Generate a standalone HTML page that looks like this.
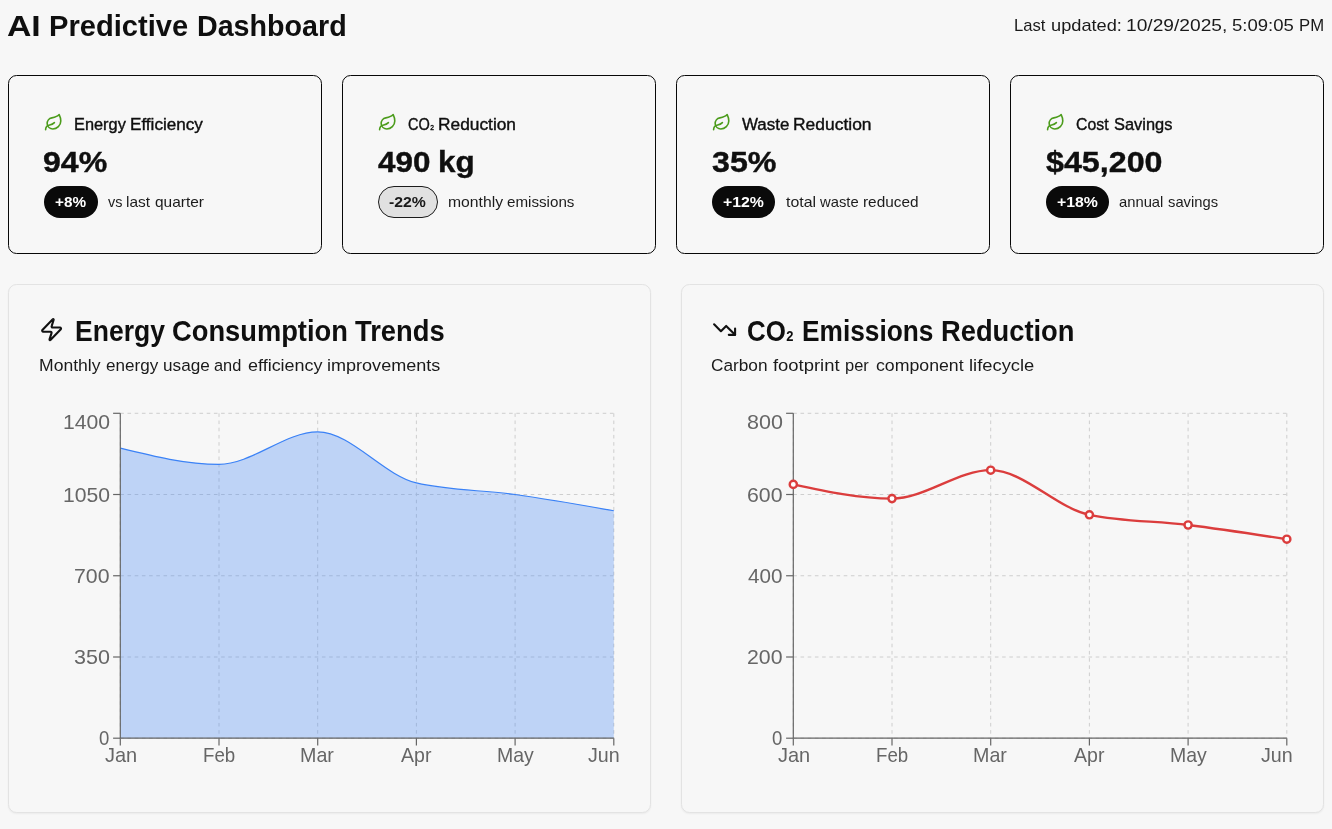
<!DOCTYPE html>
<html lang="en"><head><meta charset="utf-8"><title>AI Predictive Dashboard</title>
<style>
*{margin:0;padding:0;box-sizing:border-box}
html,body{width:1332px;height:829px;overflow:hidden;background:#f7f7f7;font-family:"Liberation Sans", sans-serif;}
.t{position:absolute;white-space:nowrap;line-height:1;transform-origin:0 0;}
.sub{font-size:46%;margin:0 .5px}
.sub2{font-size:50%;margin:0 .5px}
.card{position:absolute;top:75px;width:314px;height:179px;border:1px solid #080808;border-radius:8.6px;background:#f7f7f7}
.cc{position:absolute;top:284px;width:643px;height:528.5px;border:1px solid #e3e3e3;border-radius:8.6px;background:#f7f7f7;box-shadow:0 1px 2px rgba(0,0,0,.05)}
.badge{position:absolute;top:186px;height:31.6px;border-radius:16px}
.badge.dark{background:#0a0a0a}
.badge.light{background:#e1e1e1;border:1.2px solid #1c1c1c}
svg{position:absolute;overflow:visible}
</style></head><body>
<div class="card" style="left:8px"></div>
<div class="badge dark" style="left:44px;width:54.0px"></div>
<svg style="left:44.1px;top:113.1px" width="19.2" height="19.2" viewBox="0 0 24 24" fill="none" stroke="#4c9c1c" stroke-width="2" stroke-linecap="round" stroke-linejoin="round"><path d="M11 20A7 7 0 0 1 9.8 6.1C15.5 5 17 4.480 19 2c1 2 2 4.180 2 8 0 5.500-4.780 10-10 10Z"/><path d="M2 21c0-3 1.850-5.360 5.080-6C9.500 14.520 12 13 13 12"/></svg>
<div class="card" style="left:342px"></div>
<div class="badge light" style="left:378px;width:60.0px"></div>
<svg style="left:378.1px;top:113.1px" width="19.2" height="19.2" viewBox="0 0 24 24" fill="none" stroke="#4c9c1c" stroke-width="2" stroke-linecap="round" stroke-linejoin="round"><path d="M11 20A7 7 0 0 1 9.8 6.1C15.5 5 17 4.480 19 2c1 2 2 4.180 2 8 0 5.500-4.780 10-10 10Z"/><path d="M2 21c0-3 1.850-5.360 5.080-6C9.500 14.520 12 13 13 12"/></svg>
<div class="card" style="left:676px"></div>
<div class="badge dark" style="left:712px;width:63.1px"></div>
<svg style="left:712.1px;top:113.1px" width="19.2" height="19.2" viewBox="0 0 24 24" fill="none" stroke="#4c9c1c" stroke-width="2" stroke-linecap="round" stroke-linejoin="round"><path d="M11 20A7 7 0 0 1 9.8 6.1C15.5 5 17 4.480 19 2c1 2 2 4.180 2 8 0 5.500-4.780 10-10 10Z"/><path d="M2 21c0-3 1.850-5.360 5.080-6C9.500 14.520 12 13 13 12"/></svg>
<div class="card" style="left:1010px"></div>
<div class="badge dark" style="left:1046px;width:63.1px"></div>
<svg style="left:1046.1px;top:113.1px" width="19.2" height="19.2" viewBox="0 0 24 24" fill="none" stroke="#4c9c1c" stroke-width="2" stroke-linecap="round" stroke-linejoin="round"><path d="M11 20A7 7 0 0 1 9.8 6.1C15.5 5 17 4.480 19 2c1 2 2 4.180 2 8 0 5.500-4.780 10-10 10Z"/><path d="M2 21c0-3 1.850-5.360 5.080-6C9.500 14.520 12 13 13 12"/></svg>
<div class="cc" style="left:8px"></div><div class="cc" style="left:681px"></div>
<svg style="left:38.8px;top:316.8px" width="25.2" height="25.2" viewBox="0 0 24 24" fill="none" stroke="#111" stroke-width="2" stroke-linecap="round" stroke-linejoin="round"><path d="M4 14a1 1 0 0 1-.78-1.630l9.900-10.200a.5.5 0 0 1 .86.460l-1.920 6.020A1 1 0 0 0 13 10h7a1 1 0 0 1 .78 1.630l-9.900 10.200a.5.5 0 0 1-.86-.460l1.920-6.020A1 1 0 0 0 11 14z"/></svg>
<svg style="left:711.8px;top:316.6px" width="25.2" height="25.2" viewBox="0 0 24 24" fill="none" stroke="#111" stroke-width="2" stroke-linecap="round" stroke-linejoin="round"><polyline points="22 17 13.5 8.5 8.5 13.5 2 7"/><polyline points="16 17 22 17 22 11"/></svg>
<svg style="left:0;top:0" width="1332" height="829" viewBox="0 0 1332 829"><g stroke="#cecece" stroke-width="1" stroke-dasharray="3.6 3.6" fill="none"><line x1="120.3" y1="413.3" x2="613.8" y2="413.3"/><line x1="120.3" y1="494.5" x2="613.8" y2="494.5"/><line x1="120.3" y1="575.75" x2="613.8" y2="575.75"/><line x1="120.3" y1="657" x2="613.8" y2="657"/><line x1="120.3" y1="738.2" x2="613.8" y2="738.2"/><line x1="120.3" y1="413.3" x2="120.3" y2="738.2"/><line x1="219.0" y1="413.3" x2="219.0" y2="738.2"/><line x1="317.7" y1="413.3" x2="317.7" y2="738.2"/><line x1="416.4" y1="413.3" x2="416.4" y2="738.2"/><line x1="515.1" y1="413.3" x2="515.1" y2="738.2"/><line x1="613.8" y1="413.3" x2="613.8" y2="738.2"/></g><path d="M120.30,448.11C153.20,456.23,186.10,464.36,219.00,464.36C251.90,464.36,284.80,431.87,317.70,431.87C350.60,431.87,383.50,475.19,416.40,482.92C449.30,490.66,482.20,489.88,515.10,494.53C548.00,499.17,580.90,504.97,613.80,510.77L613.8,738.2L120.3,738.2Z" fill="#3b82f6" fill-opacity="0.3" stroke="none"/><path d="M120.30,448.11C153.20,456.23,186.10,464.36,219.00,464.36C251.90,464.36,284.80,431.87,317.70,431.87C350.60,431.87,383.50,475.19,416.40,482.92C449.30,490.66,482.20,489.88,515.10,494.53C548.00,499.17,580.90,504.97,613.80,510.77" fill="none" stroke="#3b82f6" stroke-width="1.2"/><g stroke="#666" stroke-width="1.2" fill="none"><line x1="120.3" y1="413.3" x2="120.3" y2="738.2"/><line x1="120.3" y1="738.2" x2="613.8" y2="738.2"/><line x1="113.1" y1="413.3" x2="120.3" y2="413.3"/><line x1="113.1" y1="494.5" x2="120.3" y2="494.5"/><line x1="113.1" y1="575.75" x2="120.3" y2="575.75"/><line x1="113.1" y1="657" x2="120.3" y2="657"/><line x1="113.1" y1="738.2" x2="120.3" y2="738.2"/><line x1="120.3" y1="738.2" x2="120.3" y2="745.4000000000001"/><line x1="219.0" y1="738.2" x2="219.0" y2="745.4000000000001"/><line x1="317.7" y1="738.2" x2="317.7" y2="745.4000000000001"/><line x1="416.4" y1="738.2" x2="416.4" y2="745.4000000000001"/><line x1="515.1" y1="738.2" x2="515.1" y2="745.4000000000001"/><line x1="613.8" y1="738.2" x2="613.8" y2="745.4000000000001"/></g></svg>
<svg style="left:0;top:0" width="1332" height="829" viewBox="0 0 1332 829"><g stroke="#cecece" stroke-width="1" stroke-dasharray="3.6 3.6" fill="none"><line x1="793.3" y1="413.3" x2="1286.8" y2="413.3"/><line x1="793.3" y1="494.5" x2="1286.8" y2="494.5"/><line x1="793.3" y1="575.75" x2="1286.8" y2="575.75"/><line x1="793.3" y1="657" x2="1286.8" y2="657"/><line x1="793.3" y1="738.2" x2="1286.8" y2="738.2"/><line x1="793.3" y1="413.3" x2="793.3" y2="738.2"/><line x1="892.0" y1="413.3" x2="892.0" y2="738.2"/><line x1="990.7" y1="413.3" x2="990.7" y2="738.2"/><line x1="1089.4" y1="413.3" x2="1089.4" y2="738.2"/><line x1="1188.1" y1="413.3" x2="1188.1" y2="738.2"/><line x1="1286.8" y1="413.3" x2="1286.8" y2="738.2"/></g><g stroke="#666" stroke-width="1.2" fill="none"><line x1="793.3" y1="413.3" x2="793.3" y2="738.2"/><line x1="793.3" y1="738.2" x2="1286.8" y2="738.2"/><line x1="786.0999999999999" y1="413.3" x2="793.3" y2="413.3"/><line x1="786.0999999999999" y1="494.5" x2="793.3" y2="494.5"/><line x1="786.0999999999999" y1="575.75" x2="793.3" y2="575.75"/><line x1="786.0999999999999" y1="657" x2="793.3" y2="657"/><line x1="786.0999999999999" y1="738.2" x2="793.3" y2="738.2"/><line x1="793.3" y1="738.2" x2="793.3" y2="745.4000000000001"/><line x1="892.0" y1="738.2" x2="892.0" y2="745.4000000000001"/><line x1="990.7" y1="738.2" x2="990.7" y2="745.4000000000001"/><line x1="1089.4" y1="738.2" x2="1089.4" y2="745.4000000000001"/><line x1="1188.1" y1="738.2" x2="1188.1" y2="745.4000000000001"/><line x1="1286.8" y1="738.2" x2="1286.8" y2="745.4000000000001"/></g><path d="M793.30,484.37C826.20,491.48,859.10,498.59,892.00,498.59C924.90,498.59,957.80,470.16,990.70,470.16C1023.60,470.16,1056.50,508.06,1089.40,514.83C1122.30,521.60,1155.20,520.92,1188.10,524.98C1221.00,529.05,1253.90,534.12,1286.80,539.20" fill="none" stroke="#db3d3d" stroke-width="2.4"/><circle cx="793.3" cy="484.4" r="3.6" fill="#fff" stroke="#db3d3d" stroke-width="2.4"/><circle cx="892.0" cy="498.6" r="3.6" fill="#fff" stroke="#db3d3d" stroke-width="2.4"/><circle cx="990.7" cy="470.2" r="3.6" fill="#fff" stroke="#db3d3d" stroke-width="2.4"/><circle cx="1089.4" cy="514.8" r="3.6" fill="#fff" stroke="#db3d3d" stroke-width="2.4"/><circle cx="1188.1" cy="525.0" r="3.6" fill="#fff" stroke="#db3d3d" stroke-width="2.4"/><circle cx="1286.8" cy="539.2" r="3.6" fill="#fff" stroke="#db3d3d" stroke-width="2.4"/></svg>
<h1>
<span class="t" id="h1w0" style="left:7.10px;top:12.00px;font-size:29.2px;font-weight:700;color:#0f0f0f;transform:scaleX(1.1559);">AI</span>
<span class="t" id="h1w1" style="left:48.70px;top:12.00px;font-size:29.2px;font-weight:700;color:#0f0f0f;transform:scaleX(0.9974);">Predictive</span>
<span class="t" id="h1w2" style="left:196.72px;top:12.00px;font-size:29.2px;font-weight:700;color:#0f0f0f;transform:scaleX(0.9815);">Dashboard</span>
</h1>
<p>
<span class="t" id="updw0" style="left:1014.02px;top:17.00px;font-size:17.0px;font-weight:400;color:#1a1a1a;transform:scaleX(0.9784);">Last</span>
<span class="t" id="updw1" style="left:1050.53px;top:17.00px;font-size:17.0px;font-weight:400;color:#1a1a1a;transform:scaleX(1.0719);">updated:</span>
<span class="t" id="updw2" style="left:1125.77px;top:17.00px;font-size:17.0px;font-weight:400;color:#1a1a1a;transform:scaleX(1.1283);">10/29/2025,</span>
<span class="t" id="updw3" style="left:1232.20px;top:17.00px;font-size:17.0px;font-weight:400;color:#1a1a1a;transform:scaleX(1.0899);">5:09:05</span>
<span class="t" id="updw4" style="left:1299.12px;top:17.00px;font-size:17.0px;font-weight:400;color:#1a1a1a;transform:scaleX(0.9825);">PM</span>
</p>
<p>
<span class="t" id="l0w0" style="left:73.95px;top:116.00px;font-size:17.2px;font-weight:400;color:#0f0f0f;transform:scaleX(0.9512);-webkit-text-stroke:0.4px #0f0f0f;">Energy</span>
<span class="t" id="l0w1" style="left:130.30px;top:116.00px;font-size:17.2px;font-weight:400;color:#0f0f0f;transform:scaleX(0.9958);-webkit-text-stroke:0.4px #0f0f0f;">Efficiency</span>
</p>
<p>
<span class="t" id="v0w0" style="left:43.10px;top:148.00px;font-size:29.2px;font-weight:700;color:#0f0f0f;transform:scaleX(1.0975);-webkit-text-stroke:0.4px #0f0f0f;">94%</span>
</p>
<p>
<span class="t" id="b0" style="left:55.10px;top:194.00px;font-size:15.3px;font-weight:700;color:#fff;transform:scaleX(1.0000);">+8%</span>
</p>
<p>
<span class="t" id="d0w0" style="left:108.40px;top:195.00px;font-size:14.5px;font-weight:400;color:#1c1c1c;transform:scaleX(0.9932);">vs</span>
<span class="t" id="d0w1" style="left:126.30px;top:195.00px;font-size:14.5px;font-weight:400;color:#1c1c1c;transform:scaleX(1.0650);">last</span>
<span class="t" id="d0w2" style="left:154.70px;top:195.00px;font-size:14.5px;font-weight:400;color:#1c1c1c;transform:scaleX(1.0658);">quarter</span>
</p>
<p>
<span class="t" id="l1w0" style="left:408.30px;top:116.00px;font-size:17.2px;font-weight:400;color:#0f0f0f;transform:scaleX(0.8444);-webkit-text-stroke:0.4px #0f0f0f;">CO<span class="sub">2</span></span>
<span class="t" id="l1w1" style="left:438.29px;top:116.00px;font-size:17.2px;font-weight:400;color:#0f0f0f;transform:scaleX(1.0077);-webkit-text-stroke:0.4px #0f0f0f;">Reduction</span>
</p>
<p>
<span class="t" id="v1w0" style="left:377.80px;top:148.00px;font-size:29.2px;font-weight:700;color:#0f0f0f;transform:scaleX(1.0765);-webkit-text-stroke:0.4px #0f0f0f;">490</span>
<span class="t" id="v1w1" style="left:438.15px;top:148.00px;font-size:29.2px;font-weight:700;color:#0f0f0f;transform:scaleX(1.0755);-webkit-text-stroke:0.4px #0f0f0f;">kg</span>
</p>
<p>
<span class="t" id="b1" style="left:389.20px;top:194.00px;font-size:15.3px;font-weight:700;color:#1a1a1a;transform:scaleX(1.0335);">-22%</span>
</p>
<p>
<span class="t" id="d1w0" style="left:447.70px;top:195.00px;font-size:14.5px;font-weight:400;color:#1c1c1c;transform:scaleX(1.0836);">monthly</span>
<span class="t" id="d1w1" style="left:507.20px;top:195.00px;font-size:14.5px;font-weight:400;color:#1c1c1c;transform:scaleX(1.0463);">emissions</span>
</p>
<p>
<span class="t" id="l2w0" style="left:742.30px;top:116.00px;font-size:17.2px;font-weight:400;color:#0f0f0f;transform:scaleX(0.9844);-webkit-text-stroke:0.4px #0f0f0f;">Waste</span>
<span class="t" id="l2w1" style="left:793.37px;top:116.00px;font-size:17.2px;font-weight:400;color:#0f0f0f;transform:scaleX(1.0149);-webkit-text-stroke:0.4px #0f0f0f;">Reduction</span>
</p>
<p>
<span class="t" id="v2w0" style="left:711.80px;top:148.00px;font-size:29.2px;font-weight:700;color:#0f0f0f;transform:scaleX(1.1025);-webkit-text-stroke:0.4px #0f0f0f;">35%</span>
</p>
<p>
<span class="t" id="b2" style="left:722.90px;top:194.00px;font-size:15.3px;font-weight:700;color:#fff;transform:scaleX(1.0352);">+12%</span>
</p>
<p>
<span class="t" id="d2w0" style="left:785.70px;top:195.00px;font-size:14.5px;font-weight:400;color:#1c1c1c;transform:scaleX(1.0979);">total</span>
<span class="t" id="d2w1" style="left:820.22px;top:195.00px;font-size:14.5px;font-weight:400;color:#1c1c1c;transform:scaleX(1.0194);">waste</span>
<span class="t" id="d2w2" style="left:862.80px;top:195.00px;font-size:14.5px;font-weight:400;color:#1c1c1c;transform:scaleX(1.0594);">reduced</span>
</p>
<p>
<span class="t" id="l3w0" style="left:1076.30px;top:116.00px;font-size:17.2px;font-weight:400;color:#0f0f0f;transform:scaleX(0.9203);-webkit-text-stroke:0.4px #0f0f0f;">Cost</span>
<span class="t" id="l3w1" style="left:1113.50px;top:116.00px;font-size:17.2px;font-weight:400;color:#0f0f0f;transform:scaleX(0.9552);-webkit-text-stroke:0.4px #0f0f0f;">Savings</span>
</p>
<p>
<span class="t" id="v3w0" style="left:1046.20px;top:148.00px;font-size:29.2px;font-weight:700;color:#0f0f0f;transform:scaleX(1.1044);-webkit-text-stroke:0.4px #0f0f0f;">$45,200</span>
</p>
<p>
<span class="t" id="b3" style="left:1056.90px;top:194.00px;font-size:15.3px;font-weight:700;color:#fff;transform:scaleX(1.0352);">+18%</span>
</p>
<p>
<span class="t" id="d3w0" style="left:1119.40px;top:195.00px;font-size:14.5px;font-weight:400;color:#1c1c1c;transform:scaleX(1.0191);">annual</span>
<span class="t" id="d3w1" style="left:1168.00px;top:195.00px;font-size:14.5px;font-weight:400;color:#1c1c1c;transform:scaleX(1.0174);">savings</span>
</p>
<h2>
<span class="t" id="ct0w0" style="left:74.80px;top:316.00px;font-size:29.5px;font-weight:700;color:#0f0f0f;transform:scaleX(0.8998);">Energy</span>
<span class="t" id="ct0w1" style="left:171.97px;top:316.00px;font-size:29.5px;font-weight:700;color:#0f0f0f;transform:scaleX(0.9251);">Consumption</span>
<span class="t" id="ct0w2" style="left:354.90px;top:316.00px;font-size:29.5px;font-weight:700;color:#0f0f0f;transform:scaleX(0.9266);">Trends</span>
</h2>
<p>
<span class="t" id="cs0w0" style="left:39.48px;top:357.00px;font-size:17.2px;font-weight:400;color:#1a1a1a;transform:scaleX(1.0218);">Monthly</span>
<span class="t" id="cs0w1" style="left:105.50px;top:357.00px;font-size:17.2px;font-weight:400;color:#1a1a1a;transform:scaleX(0.9928);">energy</span>
<span class="t" id="cs0w2" style="left:163.00px;top:357.00px;font-size:17.2px;font-weight:400;color:#1a1a1a;transform:scaleX(0.9991);">usage</span>
<span class="t" id="cs0w3" style="left:213.50px;top:357.00px;font-size:17.2px;font-weight:400;color:#1a1a1a;transform:scaleX(0.9528);">and</span>
<span class="t" id="cs0w4" style="left:247.90px;top:357.00px;font-size:17.2px;font-weight:400;color:#1a1a1a;transform:scaleX(1.0447);">efficiency</span>
<span class="t" id="cs0w5" style="left:327.25px;top:357.00px;font-size:17.2px;font-weight:400;color:#1a1a1a;transform:scaleX(1.0498);">improvements</span>
</p>
<h2>
<span class="t" id="ct1w0" style="left:747.42px;top:316.00px;font-size:29.5px;font-weight:700;color:#0f0f0f;transform:scaleX(0.8784);">CO<span class="sub2">2</span></span>
<span class="t" id="ct1w1" style="left:801.91px;top:316.00px;font-size:29.5px;font-weight:700;color:#0f0f0f;transform:scaleX(0.8909);">Emissions</span>
<span class="t" id="ct1w2" style="left:941.07px;top:316.00px;font-size:29.5px;font-weight:700;color:#0f0f0f;transform:scaleX(0.9255);">Reduction</span>
</h2>
<p>
<span class="t" id="cs1w0" style="left:711.11px;top:357.00px;font-size:17.2px;font-weight:400;color:#1a1a1a;transform:scaleX(1.0032);">Carbon</span>
<span class="t" id="cs1w1" style="left:773.10px;top:357.00px;font-size:17.2px;font-weight:400;color:#1a1a1a;transform:scaleX(1.0719);">footprint</span>
<span class="t" id="cs1w2" style="left:844.84px;top:357.00px;font-size:17.2px;font-weight:400;color:#1a1a1a;transform:scaleX(0.9557);">per</span>
<span class="t" id="cs1w3" style="left:875.50px;top:357.00px;font-size:17.2px;font-weight:400;color:#1a1a1a;transform:scaleX(1.0302);">component</span>
<span class="t" id="cs1w4" style="left:968.53px;top:357.00px;font-size:17.2px;font-weight:400;color:#1a1a1a;transform:scaleX(1.0683);">lifecycle</span>
</p>
<p>
<span class="t" id="ax0" style="left:104.60px;top:746.00px;font-size:19.8px;font-weight:400;color:#666;transform:scaleX(1.0097);">Jan</span>
</p>
<p>
<span class="t" id="ax1" style="left:202.65px;top:746.00px;font-size:19.8px;font-weight:400;color:#666;transform:scaleX(0.9455);">Feb</span>
</p>
<p>
<span class="t" id="ax2" style="left:300.41px;top:746.00px;font-size:19.8px;font-weight:400;color:#666;transform:scaleX(0.9940);">Mar</span>
</p>
<p>
<span class="t" id="ax3" style="left:401.10px;top:746.00px;font-size:19.8px;font-weight:400;color:#666;transform:scaleX(0.9869);">Apr</span>
</p>
<p>
<span class="t" id="ax4" style="left:496.72px;top:746.00px;font-size:19.8px;font-weight:400;color:#666;transform:scaleX(0.9831);">May</span>
</p>
<p>
<span class="t" id="ax5" style="left:587.90px;top:746.00px;font-size:19.8px;font-weight:400;color:#666;transform:scaleX(0.9940);">Jun</span>
</p>
<p>
<span class="t" id="ay0" style="left:63.43px;top:413.00px;font-size:19.8px;font-weight:400;color:#666;transform:scaleX(1.0698);">1400</span>
</p>
<p>
<span class="t" id="ay1" style="left:63.43px;top:486.00px;font-size:19.8px;font-weight:400;color:#666;transform:scaleX(1.0698);">1050</span>
</p>
<p>
<span class="t" id="ay2" style="left:74.02px;top:567.00px;font-size:19.8px;font-weight:400;color:#666;transform:scaleX(1.0750);">700</span>
</p>
<p>
<span class="t" id="ay3" style="left:74.10px;top:648.00px;font-size:19.8px;font-weight:400;color:#666;transform:scaleX(1.0867);">350</span>
</p>
<p>
<span class="t" id="ay4" style="left:99.20px;top:729.00px;font-size:19.8px;font-weight:400;color:#666;transform:scaleX(0.9365);">0</span>
</p>
<p>
<span class="t" id="bx0" style="left:777.60px;top:746.00px;font-size:19.8px;font-weight:400;color:#666;transform:scaleX(1.0097);">Jan</span>
</p>
<p>
<span class="t" id="bx1" style="left:875.65px;top:746.00px;font-size:19.8px;font-weight:400;color:#666;transform:scaleX(0.9455);">Feb</span>
</p>
<p>
<span class="t" id="bx2" style="left:973.41px;top:746.00px;font-size:19.8px;font-weight:400;color:#666;transform:scaleX(0.9940);">Mar</span>
</p>
<p>
<span class="t" id="bx3" style="left:1074.10px;top:746.00px;font-size:19.8px;font-weight:400;color:#666;transform:scaleX(0.9869);">Apr</span>
</p>
<p>
<span class="t" id="bx4" style="left:1169.72px;top:746.00px;font-size:19.8px;font-weight:400;color:#666;transform:scaleX(0.9831);">May</span>
</p>
<p>
<span class="t" id="bx5" style="left:1260.90px;top:746.00px;font-size:19.8px;font-weight:400;color:#666;transform:scaleX(0.9940);">Jun</span>
</p>
<p>
<span class="t" id="by0" style="left:747.10px;top:413.00px;font-size:19.8px;font-weight:400;color:#666;transform:scaleX(1.0867);">800</span>
</p>
<p>
<span class="t" id="by1" style="left:747.02px;top:486.00px;font-size:19.8px;font-weight:400;color:#666;transform:scaleX(1.0750);">600</span>
</p>
<p>
<span class="t" id="by2" style="left:748.10px;top:567.00px;font-size:19.8px;font-weight:400;color:#666;transform:scaleX(1.0425);">400</span>
</p>
<p>
<span class="t" id="by3" style="left:747.02px;top:648.00px;font-size:19.8px;font-weight:400;color:#666;transform:scaleX(1.0750);">200</span>
</p>
<p>
<span class="t" id="by4" style="left:772.20px;top:729.00px;font-size:19.8px;font-weight:400;color:#666;transform:scaleX(0.9365);">0</span>
</p>
</body></html>
